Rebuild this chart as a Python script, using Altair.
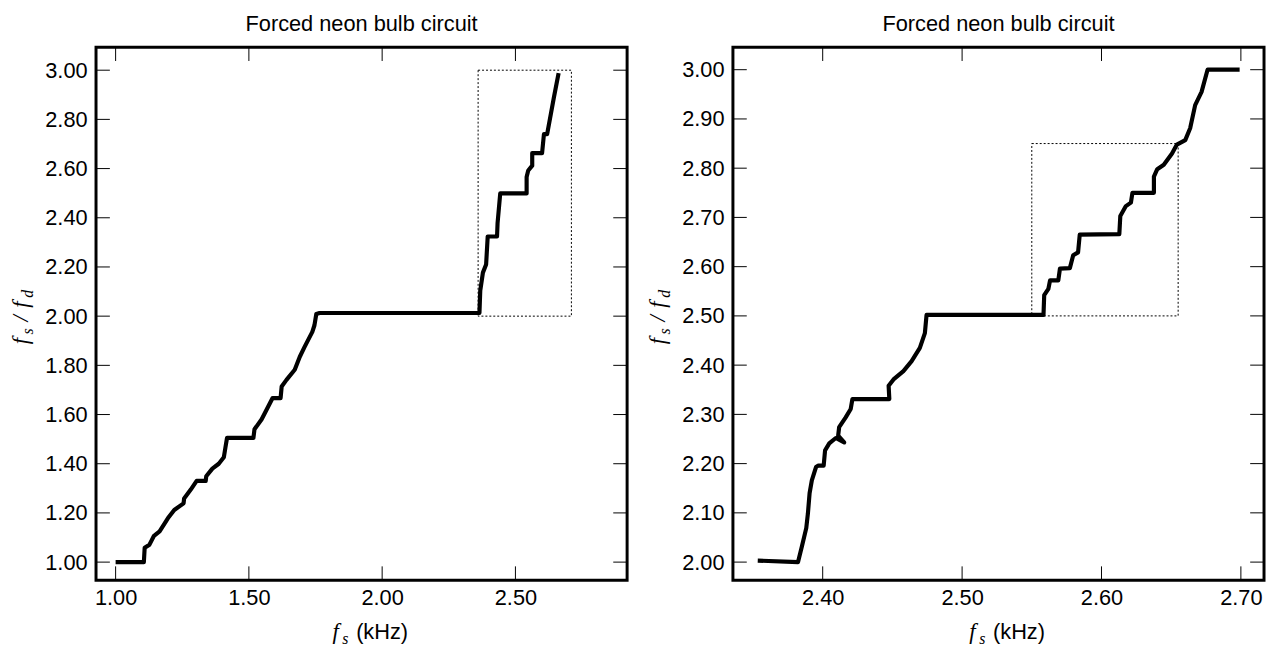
import altair as alt
import pandas as pd

TITLE = "Forced neon bulb circuit"

# Left panel: full sweep (fs in kHz, fs/fd ratio)
left_fs = [1.000, 1.106, 1.109, 1.127, 1.144, 1.165, 1.196, 1.220, 1.255, 1.257,
           1.282, 1.304, 1.338, 1.340, 1.363, 1.387, 1.406, 1.412, 1.418, 1.517,
           1.521, 1.548, 1.589, 1.619, 1.623, 1.641, 1.672, 1.691, 1.709, 1.738,
           1.746, 1.753, 1.765, 2.365, 2.368, 2.378, 2.390, 2.396, 2.431, 2.433,
           2.443, 2.542, 2.542, 2.548, 2.563, 2.563, 2.600, 2.607, 2.619, 2.644,
           2.662]
left_ratio = [1.000, 1.000, 1.058, 1.071, 1.107, 1.125, 1.178, 1.212, 1.239, 1.259,
              1.295, 1.330, 1.330, 1.349, 1.380, 1.400, 1.426, 1.466, 1.505, 1.505,
              1.540, 1.581, 1.667, 1.667, 1.714, 1.741, 1.782, 1.835, 1.875, 1.936,
              1.963, 2.009, 2.013, 2.013, 2.103, 2.177, 2.210, 2.324, 2.324, 2.378,
              2.499, 2.499, 2.566, 2.592, 2.612, 2.663, 2.663, 2.740, 2.740, 2.887,
              2.988]

# Right panel: zoomed sweep
right_fs = [2.3534, 2.3823, 2.3851, 2.3882, 2.3894, 2.3906, 2.3922, 2.3952, 2.3969, 2.4007,
            2.4017, 2.4047, 2.4094, 2.4154, 2.4111, 2.4118, 2.4165, 2.4201, 2.4213, 2.4478,
            2.4473, 2.4508, 2.4579, 2.4638, 2.4697, 2.4733, 2.4745, 2.5584, 2.5589, 2.5619,
            2.5631, 2.5690, 2.5702, 2.5773, 2.5797, 2.5832, 2.5844, 2.6128, 2.6135, 2.6175,
            2.6211, 2.6222, 2.6376, 2.6376, 2.6400, 2.6447, 2.6506, 2.6541, 2.6601, 2.6636,
            2.6672, 2.6718, 2.6761, 2.6991]
right_ratio = [2.003, 2.000, 2.032, 2.069, 2.099, 2.140, 2.166, 2.193, 2.196, 2.196,
               2.227, 2.241, 2.252, 2.243, 2.257, 2.274, 2.294, 2.311, 2.331, 2.331,
               2.358, 2.371, 2.388, 2.408, 2.435, 2.465, 2.502, 2.502, 2.542, 2.555,
               2.572, 2.572, 2.596, 2.597, 2.623, 2.629, 2.665, 2.666, 2.703, 2.723,
               2.730, 2.750, 2.750, 2.783, 2.798, 2.807, 2.830, 2.848, 2.857, 2.881,
               2.928, 2.955, 3.000, 3.000]

left_box_fs = [2.36, 2.71]
left_box_ratio = [2.00, 3.00]
right_box_fs = [2.55, 2.655]
right_box_ratio = [2.50, 2.85]

left_xticks = [1.0, 1.5, 2.0, 2.5]
left_yticks = [1.0, 1.2, 1.4, 1.6, 1.8, 2.0, 2.2, 2.4, 2.6, 2.8, 3.0]
right_xticks = [2.4, 2.5, 2.6, 2.7]
right_yticks = [2.0, 2.1, 2.2, 2.3, 2.4, 2.5, 2.6, 2.7, 2.8, 2.9, 3.0]

left_xdomain = [0.9265, 2.919]
left_ydomain = [0.9264, 3.0937]
right_xdomain = [2.3356, 2.7166]
right_ydomain = [1.9632, 3.0458]

W, H = 537, 539
TICK = 14
SANS = "Liberation Sans"
SERIF = "Liberation Serif"
LABEL_SIZE = 22
MATH = 23
SUB = 16

one = pd.DataFrame({"k": [0]})


def piece(text, x, y, font, size, style="italic", angle=0):
    return alt.Chart(one).mark_text(
        text=text, font=font, fontSize=size, fontStyle=style, color="black",
        align="left", baseline="alphabetic", angle=angle,
    ).encode(x=alt.value(x), y=alt.value(y))


def panel(xs, ys, box_x, box_y, xt, yt, xd, yd):
    curve = pd.DataFrame({"fs": xs, "ratio": ys, "i": list(range(len(xs)))})
    xscale = alt.Scale(domain=xd, nice=False, zero=False)
    yscale = alt.Scale(domain=yd, nice=False, zero=False)
    xax = alt.Axis(values=xt, format=".2f", title=None, ticks=False, tickSize=0,
                   domain=False, grid=False, labelFont=SANS, labelFontSize=LABEL_SIZE,
                   labelPadding=8, labelColor="black", labelFlush=False)
    yax = alt.Axis(values=yt, format=".2f", title=None, ticks=False, tickSize=0,
                   domain=False, grid=False, labelFont=SANS, labelFontSize=LABEL_SIZE,
                   labelPadding=9, labelColor="black")
    X = lambda f: alt.X(f, type="quantitative", scale=xscale, axis=xax)
    Y = lambda f: alt.Y(f, type="quantitative", scale=yscale, axis=yax)

    line = alt.Chart(curve).mark_line(color="black", strokeWidth=4.2, strokeJoin="round",
                                      strokeCap="butt", clip=True).encode(
        x=X("fs"), y=Y("ratio"), order=alt.Order("i:Q"))

    box_df = pd.DataFrame({"fs": [box_x[0]], "fs2": [box_x[1]],
                           "ratio": [box_y[0]], "ratio2": [box_y[1]]})
    box = alt.Chart(box_df).mark_rect(fillOpacity=0, stroke="black", strokeWidth=1,
                                      strokeDash=[2, 2]).encode(
        x=X("fs"), x2="fs2", y=Y("ratio"), y2="ratio2")

    xt_df = pd.DataFrame({"fs": xt})
    yt_df = pd.DataFrame({"ratio": yt})
    rule = dict(color="black", strokeWidth=1)
    tb = alt.Chart(xt_df).mark_rule(**rule).encode(x=X("fs"), y=alt.value(H), y2=alt.value(H - TICK))
    tt = alt.Chart(xt_df).mark_rule(**rule).encode(x=X("fs"), y=alt.value(0), y2=alt.value(TICK))
    tl = alt.Chart(yt_df).mark_rule(**rule).encode(y=Y("ratio"), x=alt.value(0), x2=alt.value(TICK))
    tr = alt.Chart(yt_df).mark_rule(**rule).encode(y=Y("ratio"), x=alt.value(W), x2=alt.value(W - TICK))

    # x-axis title: f_s (kHz)
    xb = H + 59
    x0 = 239
    xtitle = [
        piece("f", x0, xb, SERIF, MATH),
        piece("s", x0 + 10, xb + 5, SERIF, SUB),
        piece("(kHz)", x0 + 24, xb, SANS, LABEL_SIZE, style="normal"),
    ]
    # y-axis title: f_s / f_d (rotated)
    yb = -69
    y0 = H / 2 + 31
    ytitle = [
        piece("f", yb, y0, SERIF, MATH, angle=270),
        piece("s", yb + 5, y0 - 10, SERIF, SUB, angle=270),
        piece("/", yb, y0 - 23, SERIF, MATH, angle=270),
        piece("f", yb, y0 - 37, SERIF, MATH, angle=270),
        piece("d", yb + 5, y0 - 47, SERIF, SUB, angle=270),
    ]

    return alt.layer(line, box, tb, tt, tl, tr, *xtitle, *ytitle).properties(
        width=W, height=H,
        title=alt.TitleParams(TITLE, font=SANS, fontSize=22, fontWeight="normal",
                              color="black", anchor="middle", offset=11),
    )


left = panel(left_fs, left_ratio, left_box_fs, left_box_ratio,
             left_xticks, left_yticks, left_xdomain, left_ydomain)
right = panel(right_fs, right_ratio, right_box_fs, right_box_ratio,
              right_xticks, right_yticks, right_xdomain, right_ydomain)

chart = alt.hconcat(left, right, spacing=16).properties(
    padding={"left": 0, "top": 0, "right": 0, "bottom": 0}
).configure_view(stroke="black", strokeWidth=3)

chart.save("out.html", embed_options={"renderer": "svg", "actions": False})
